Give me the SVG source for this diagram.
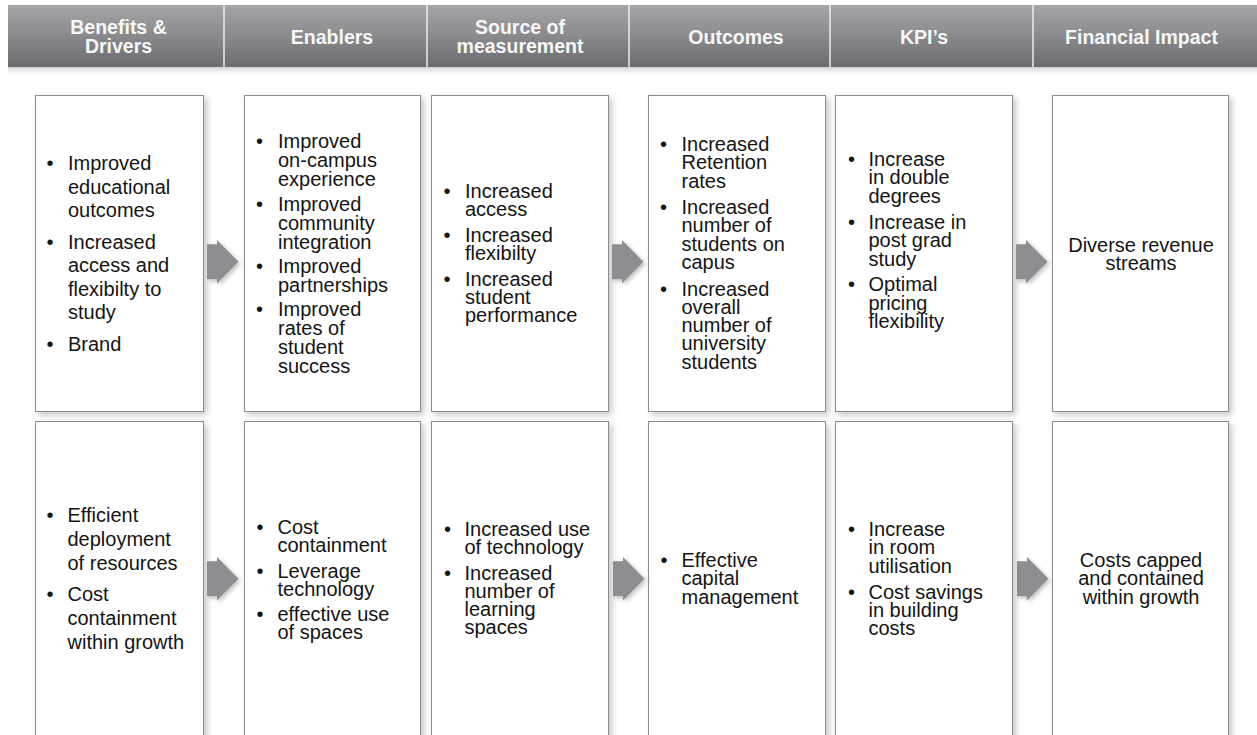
<svg xmlns="http://www.w3.org/2000/svg" width="1257" height="735" viewBox="0 0 1257 735">
  <defs>
    <linearGradient id="hdrGrad" x1="0" y1="0" x2="0" y2="1">
      <stop offset="0" stop-color="#a6a6aa"/>
      <stop offset="0.5" stop-color="#8a8a8e"/>
      <stop offset="1" stop-color="#6c6c70"/>
    </linearGradient>
    <linearGradient id="hdrShade" x1="0" y1="0" x2="0" y2="1">
      <stop offset="0" stop-color="#cfcfd2"/>
      <stop offset="1" stop-color="#ffffff" stop-opacity="0"/>
    </linearGradient>
    <filter id="boxShadow" x="-10%" y="-5%" width="125%" height="115%">
      <feDropShadow dx="3" dy="3" stdDeviation="3" flood-color="#000" flood-opacity="0.22"/>
    </filter>
    <filter id="arrowShadow" x="-30%" y="-30%" width="170%" height="170%">
      <feDropShadow dx="2" dy="2" stdDeviation="2" flood-color="#000" flood-opacity="0.25"/>
    </filter>
    <!-- block arrow, origin at left end of the centre line -->
    <path id="blockArrow" d="M0,-17.5 H10 V-21.7 L31.5,0 L10,21.7 V17.5 H0 Z"/>
  </defs>
  <style>
    .box { fill: #ffffff; stroke: #8c8c8c; stroke-width: 1; filter: url(#boxShadow); }
    .hdr { font-family: "Liberation Sans", Arial, sans-serif; font-weight: bold; font-size: 19.5px; fill: #f7f7f7; text-anchor: middle; }
    .txt { font-family: "Liberation Sans", Arial, sans-serif; font-size: 20px; fill: #141414; }
    .ctr { text-anchor: middle; }
    .sep { stroke: #ececec; stroke-width: 1.5; }
    .arrow { fill: #8e8e92; filter: url(#arrowShadow); }
  </style>

  <rect width="1257" height="735" fill="#ffffff"/>

  <!-- column header band -->
  <g id="header">
    <rect x="8" y="67" width="1249" height="10" fill="url(#hdrShade)"/>
    <rect x="8" y="5" width="1249" height="62" fill="url(#hdrGrad)"/>
    <line class="sep" x1="224" y1="5" x2="224" y2="67"/>
    <line class="sep" x1="427" y1="5" x2="427" y2="67"/>
    <line class="sep" x1="629" y1="5" x2="629" y2="67"/>
    <line class="sep" x1="830" y1="5" x2="830" y2="67"/>
    <line class="sep" x1="1033" y1="5" x2="1033" y2="67"/>
    <text class="hdr"><tspan x="118.5" y="33.5">Benefits &amp;</tspan><tspan x="118.5" y="52.5">Drivers</tspan></text>
    <text class="hdr" x="332" y="44">Enablers</text>
    <text class="hdr"><tspan x="520" y="33.5">Source of</tspan><tspan x="520" y="52.5">measurement</tspan></text>
    <text class="hdr" x="736" y="44">Outcomes</text>
    <text class="hdr" x="924" y="44">KPI’s</text>
    <text class="hdr" x="1141.5" y="44">Financial Impact</text>
  </g>

  <!-- row 1 -->
  <g id="r1-benefits">
    <rect class="box" x="35.5" y="95.5" width="168" height="316"/>
    <g class="txt">
      <text x="50" y="170" class="ctr">•</text>
      <text x="50" y="248.5" class="ctr">•</text>
      <text x="50" y="350.5" class="ctr">•</text>
      <text><tspan x="68" y="170">Improved</tspan><tspan x="68" y="193.5">educational</tspan><tspan x="68" y="217">outcomes</tspan><tspan x="68" y="248.5">Increased</tspan><tspan x="68" y="272">access and</tspan><tspan x="68" y="295.5">flexibilty to</tspan><tspan x="68" y="319">study</tspan><tspan x="68" y="350.5">Brand</tspan></text>
    </g>
  </g>

  <g id="r1-enablers">
    <rect class="box" x="244.5" y="95.5" width="176" height="316"/>
    <g class="txt">
      <text x="259.5" y="148" class="ctr">•</text>
      <text x="259.5" y="211" class="ctr">•</text>
      <text x="259.5" y="273" class="ctr">•</text>
      <text x="259.5" y="316" class="ctr">•</text>
      <text><tspan x="278" y="148">Improved</tspan><tspan x="278" y="167">on-campus</tspan><tspan x="278" y="186">experience</tspan><tspan x="278" y="211">Improved</tspan><tspan x="278" y="230">community</tspan><tspan x="278" y="249">integration</tspan><tspan x="278" y="273">Improved</tspan><tspan x="278" y="292">partnerships</tspan><tspan x="278" y="316">Improved</tspan><tspan x="278" y="335">rates of</tspan><tspan x="278" y="354">student</tspan><tspan x="278" y="373">success</tspan></text>
    </g>
  </g>

  <g id="r1-source">
    <rect class="box" x="431.5" y="95.5" width="177" height="316"/>
    <g class="txt">
      <text x="447" y="197.5" class="ctr">•</text>
      <text x="447" y="242" class="ctr">•</text>
      <text x="447" y="286" class="ctr">•</text>
      <text><tspan x="465" y="197.5">Increased</tspan><tspan x="465" y="215.5">access</tspan><tspan x="465" y="242">Increased</tspan><tspan x="465" y="260">flexibilty</tspan><tspan x="465" y="286">Increased</tspan><tspan x="465" y="304">student</tspan><tspan x="465" y="322">performance</tspan></text>
    </g>
  </g>

  <g id="r1-outcomes">
    <rect class="box" x="648.5" y="95.5" width="177" height="316"/>
    <g class="txt">
      <text x="663.5" y="151" class="ctr">•</text>
      <text x="663.5" y="214" class="ctr">•</text>
      <text x="663.5" y="295.5" class="ctr">•</text>
      <text><tspan x="681.5" y="151">Increased</tspan><tspan x="681.5" y="169.3">Retention</tspan><tspan x="681.5" y="187.6">rates</tspan><tspan x="681.5" y="214">Increased</tspan><tspan x="681.5" y="232.3">number of</tspan><tspan x="681.5" y="250.6">students on</tspan><tspan x="681.5" y="268.9">capus</tspan><tspan x="681.5" y="295.5">Increased</tspan><tspan x="681.5" y="313.8">overall</tspan><tspan x="681.5" y="332.1">number of</tspan><tspan x="681.5" y="350.4">university</tspan><tspan x="681.5" y="368.7">students</tspan></text>
    </g>
  </g>

  <g id="r1-kpis">
    <rect class="box" x="835.5" y="95.5" width="177" height="316"/>
    <g class="txt">
      <text x="851.5" y="165.5" class="ctr">•</text>
      <text x="851.5" y="228.5" class="ctr">•</text>
      <text x="851.5" y="291" class="ctr">•</text>
      <text><tspan x="868.5" y="165.5">Increase</tspan><tspan x="868.5" y="184.2">in double</tspan><tspan x="868.5" y="203">degrees</tspan><tspan x="868.5" y="228.5">Increase in</tspan><tspan x="868.5" y="247.2">post grad</tspan><tspan x="868.5" y="266">study</tspan><tspan x="868.5" y="291">Optimal</tspan><tspan x="868.5" y="309.7">pricing</tspan><tspan x="868.5" y="328.4">flexibility</tspan></text>
    </g>
  </g>

  <g id="r1-financial">
    <rect class="box" x="1052.5" y="95.5" width="176" height="316"/>
    <text class="txt ctr"><tspan x="1141" y="251.5">Diverse revenue</tspan><tspan x="1141" y="270">streams</tspan></text>
  </g>

  <!-- row 2 -->
  <g id="r2-benefits">
    <rect class="box" x="35.5" y="421.5" width="168" height="330"/>
    <g class="txt">
      <text x="50" y="522" class="ctr">•</text>
      <text x="50" y="601" class="ctr">•</text>
      <text><tspan x="67.5" y="522">Efficient</tspan><tspan x="67.5" y="546">deployment</tspan><tspan x="67.5" y="570">of resources</tspan><tspan x="67.5" y="601">Cost</tspan><tspan x="67.5" y="625">containment</tspan><tspan x="67.5" y="649">within growth</tspan></text>
    </g>
  </g>

  <g id="r2-enablers">
    <rect class="box" x="244.5" y="421.5" width="176" height="330"/>
    <g class="txt">
      <text x="260" y="533.5" class="ctr">•</text>
      <text x="260" y="577.5" class="ctr">•</text>
      <text x="260" y="621" class="ctr">•</text>
      <text><tspan x="277.5" y="533.5">Cost</tspan><tspan x="277.5" y="551.5">containment</tspan><tspan x="277.5" y="577.5">Leverage</tspan><tspan x="277.5" y="595.5">technology</tspan><tspan x="277.5" y="621">effective use</tspan><tspan x="277.5" y="639">of spaces</tspan></text>
    </g>
  </g>

  <g id="r2-source">
    <rect class="box" x="431.5" y="421.5" width="177" height="330"/>
    <g class="txt">
      <text x="447.5" y="536" class="ctr">•</text>
      <text x="447.5" y="580" class="ctr">•</text>
      <text><tspan x="464.5" y="536">Increased use</tspan><tspan x="464.5" y="554">of technology</tspan><tspan x="464.5" y="580">Increased</tspan><tspan x="464.5" y="598">number of</tspan><tspan x="464.5" y="616">learning</tspan><tspan x="464.5" y="634">spaces</tspan></text>
    </g>
  </g>

  <g id="r2-outcomes">
    <rect class="box" x="648.5" y="421.5" width="177" height="330"/>
    <g class="txt">
      <text x="664" y="567" class="ctr">•</text>
      <text><tspan x="681.5" y="567">Effective</tspan><tspan x="681.5" y="585">capital</tspan><tspan x="681.5" y="603.5">management</tspan></text>
    </g>
  </g>

  <g id="r2-kpis">
    <rect class="box" x="835.5" y="421.5" width="177" height="330"/>
    <g class="txt">
      <text x="851.5" y="536" class="ctr">•</text>
      <text x="851.5" y="599" class="ctr">•</text>
      <text><tspan x="868.5" y="536">Increase</tspan><tspan x="868.5" y="554">in room</tspan><tspan x="868.5" y="572.5">utilisation</tspan><tspan x="868.5" y="599">Cost savings</tspan><tspan x="868.5" y="617">in building</tspan><tspan x="868.5" y="635">costs</tspan></text>
    </g>
  </g>

  <g id="r2-financial">
    <rect class="box" x="1052.5" y="421.5" width="176" height="330"/>
    <text class="txt ctr"><tspan x="1141" y="567">Costs capped</tspan><tspan x="1141" y="585">and contained</tspan><tspan x="1141" y="603.5">within growth</tspan></text>
  </g>

  <!-- flow arrows between columns -->
  <g id="connectors" class="arrow">
    <use href="#blockArrow" x="207" y="261.7"/>
    <use href="#blockArrow" x="612" y="261.7"/>
    <use href="#blockArrow" x="1016" y="261.7"/>
    <use href="#blockArrow" x="207" y="578.7"/>
    <use href="#blockArrow" x="613" y="578.7"/>
    <use href="#blockArrow" x="1017" y="578.7"/>
  </g>
</svg>
